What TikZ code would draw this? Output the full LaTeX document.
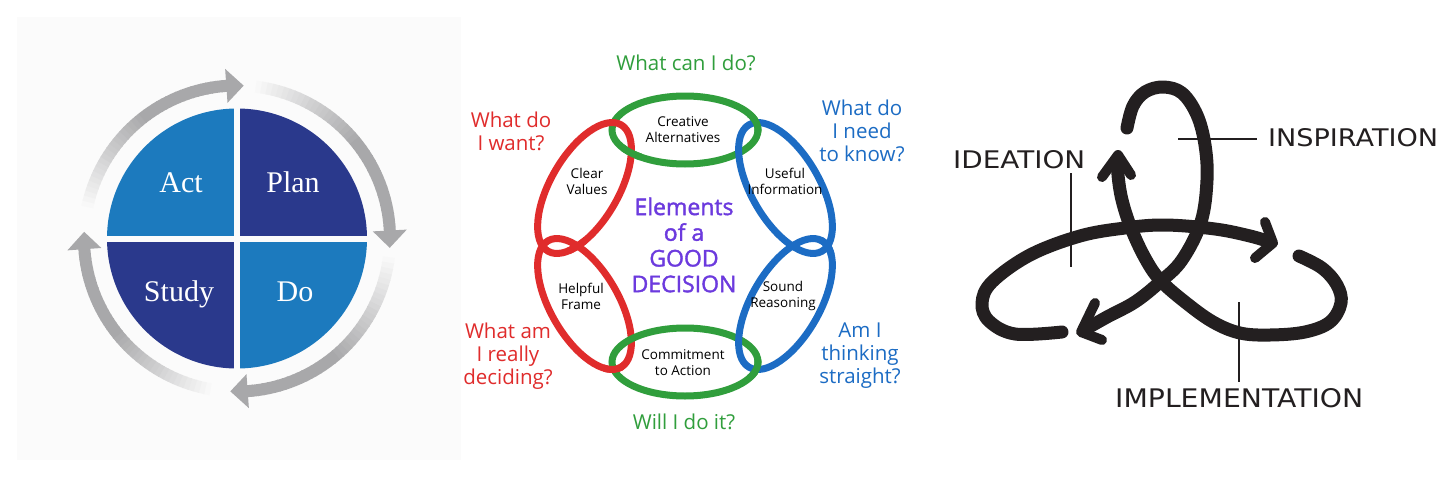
\documentclass[tikz,border=0pt]{standalone}
\usepackage{fontspec}
\usepackage{graphicx}
\usetikzlibrary{intersections}
\newfontfamily\hand{Open Sans}
\newfontfamily\handb[FakeBold=1.6]{Open Sans}
\newfontfamily\serf{Liberation Serif}
\newfontfamily\lett{DejaVu Sans}
\definecolor{panelbg}{RGB}{251,251,251}
\definecolor{pdlight}{RGB}{28,122,190}
\definecolor{pddark}{RGB}{42,57,140}
\definecolor{arrowgray}{RGB}{168,168,170}
\definecolor{dgreen}{RGB}{48,158,60}
\definecolor{dred}{RGB}{224,44,44}
\definecolor{dblue}{RGB}{28,108,196}
\definecolor{dpurple}{RGB}{108,58,222}
\definecolor{knotblack}{RGB}{35,31,32}
\tikzset{
  pdlab/.style={text=white, font=\serf\fontsize{30}{36}\selectfont, inner sep=0pt},
  ring/.style={line width=7pt},
  eGT/.style={shift={(685,130)}},
  eRUL/.style={shift={(584.5,188)}, rotate=60},
  eRLL/.style={shift={(584.5,304)}, rotate=-60},
  eGB/.style={shift={(685,362)}},
  eBLR/.style={shift={(785.5,304)}, rotate=60},
  eBUR/.style={shift={(785.5,188)}, rotate=-60},
  qlab/.style={font=\hand\fontsize{20.5}{23}\selectfont, align=center, inner sep=0pt},
  ilab/.style={font=\hand\fontsize{13.5}{16}\selectfont, align=center, inner sep=0pt, text=black},
  knot/.style={line width=13pt, knotblack, line cap=round, line join=round},
  barb/.style={line width=10pt, knotblack, line cap=round, line join=round},
  lead/.style={line width=2pt, knotblack},
  caps/.style={inner sep=0pt, text=knotblack}
}
\begin{document}
\begin{tikzpicture}[x=1pt,y=-1pt]
\useasboundingbox (0,0) rectangle (1456,479);
\fill[white] (0,0) rectangle (1456,479);
\fill[panelbg] (17,17) rectangle (461,460);

% ---------------- PDSA cycle ----------------
\coordinate (pc) at (237,238.5);
\begin{scope}
  \clip (pc) circle[radius=130];
  \fill[pdlight] (100,100) rectangle (234,235.7);
  \fill[pddark] (240,100) rectangle (380,235.7);
  \fill[pddark] (100,241.7) rectangle (234,380);
  \fill[pdlight] (240,241.7) rectangle (380,380);
\end{scope}
\node[pdlab, anchor=base] (act) at (181,192.7) {Act};
\node[pdlab, anchor=base] (plan) at (293,192.7) {Plan};
\node[pdlab, anchor=base] (study) at (179,301.7) {Study};
\node[pdlab, anchor=base] (do) at (295,301.7) {Do};

\def\pr{153}
\foreach \ta/\tb in {-170/-94, -85/-3, 5/86, 98/176} {
  \foreach \i in {0,...,39} {
    \pgfmathsetmacro\aa{\ta+(\tb-\ta)*\i/40}
    \pgfmathsetmacro\ab{\ta+(\tb-\ta)*(\i+1)/40+0.4}
    \pgfmathtruncatemacro\pp{min(100,\i*100/22)}
    \draw[line width=12pt, color=arrowgray!\pp!panelbg] ([shift={(\aa:\pr)}]pc) arc[start angle=\aa, end angle=\ab, radius=\pr];
  }
  \pgfmathsetmacro\ri{\pr-17}
  \pgfmathsetmacro\ro{\pr+17}
  \pgfmathsetmacro\tt{\tb+6.5}
  \fill[arrowgray] ([shift={(\tb:\ri)}]pc) -- ([shift={(\tt:\pr)}]pc) -- ([shift={(\tb:\ro)}]pc) -- cycle;
}

% ---------------- Elements of a good decision ----------------
\draw[ring, dgreen, eGT, name path=gT] (0,0) ellipse[x radius=73, y radius=34];
\draw[ring, dred, eRUL, name path=rUL] (0,0) ellipse[x radius=73, y radius=34];
\draw[ring, dred, eRLL, name path=rLL] (0,0) ellipse[x radius=73, y radius=34];
\draw[ring, dgreen, eGB, name path=gB] (0,0) ellipse[x radius=73, y radius=34];
\draw[ring, dblue, eBLR, name path=bLR] (0,0) ellipse[x radius=73, y radius=34];
\draw[ring, dblue, eBUR, name path=bUR] (0,0) ellipse[x radius=73, y radius=34];

\path[name intersections={of=gT and rUL, name=ia}];
\path[name intersections={of=rUL and rLL, name=ib}];
\path[name intersections={of=rLL and gB, name=ic}];
\path[name intersections={of=gB and bLR, name=id}];
\path[name intersections={of=bLR and bUR, name=ie}];
\path[name intersections={of=bUR and gT, name=if}];
\begin{scope}\clip (ia-1) circle[radius=11];
  \draw[ring, dgreen, eGT] (0,0) ellipse[x radius=73, y radius=34];\end{scope}
\begin{scope}\clip (ib-1) circle[radius=11];
  \draw[ring, dred, eRUL] (0,0) ellipse[x radius=73, y radius=34];\end{scope}
\begin{scope}\clip (ic-1) circle[radius=11];
  \draw[ring, dred, eRLL] (0,0) ellipse[x radius=73, y radius=34];\end{scope}
\begin{scope}\clip (id-1) circle[radius=11];
  \draw[ring, dgreen, eGB] (0,0) ellipse[x radius=73, y radius=34];\end{scope}
\begin{scope}\clip (ie-1) circle[radius=11];
  \draw[ring, dblue, eBLR] (0,0) ellipse[x radius=73, y radius=34];\end{scope}
\begin{scope}\clip (if-2) circle[radius=11];
  \draw[ring, dgreen, eGT] (0,0) ellipse[x radius=73, y radius=34];\end{scope}

\node[qlab, text=dgreen] (q1) at (686,63) {What can I do?};
\node[qlab, text=dred] (q2) at (511,131) {What do\\I want?};
\node[qlab, text=dblue] (q3) at (862,131) {What do\\I need\\to know?};
\node[qlab, text=dred] (q4) at (508,356) {What am\\I really\\deciding?};
\node[qlab, text=dblue] (q5) at (860,356) {Am I\\thinking\\straight?};
\node[qlab, text=dgreen] (q6) at (684,422) {Will I do it?};

\node[ilab] (e1) at (683,130) {Creative\\Alternatives};
\node[ilab] (e2) at (587,181) {Clear\\Values};
\node[ilab] (e3) at (785,181) {Useful\\Information};
\node[ilab] (e4) at (581,296) {Helpful\\Frame};
\node[ilab] (e5) at (783,296) {Sound\\Reasoning};
\node[ilab] (e6) at (683,363) {Commitment\\to Action};

\node[font=\handb\fontsize{23}{25.7}\selectfont, align=center, text=dpurple, inner sep=0pt] (title) at (684,245) {Elements\\of a\\GOOD\\DECISION};

% ---------------- Ideation / Inspiration / Implementation ----------------
% stroke C (left loop, arrow to the right)
\draw[knot] plot[smooth, tension=0.6] coordinates {(1062,332) (1015,334) (989,321) (982,303) (992,282) (1030,255) (1080,236) (1125,228) (1165,225) (1215,229) (1250,236) (1270,242)};
\draw[barb] (1265,222) -- (1273,243) -- (1255,258);
% stroke B (top loop, arrow down-left)
\draw[knot] plot[smooth, tension=0.6] coordinates {(1127,128) (1133,106) (1145,92) (1163,87) (1182,93) (1197,115) (1205,145) (1207,180) (1201,222) (1182,260) (1160,282) (1135,302) (1107,317) (1084,330)};
\draw[barb] (1095,303) -- (1081,332) -- (1102,340);
% stroke A (right loop, arrow up)
\draw[knot] plot[smooth, tension=0.6] coordinates {(1299,256) (1322,268) (1337,285) (1341,303) (1330,322) (1305,332) (1270,335) (1240,333) (1213,322) (1185,302) (1160,280) (1145,258) (1131,228) (1122,200) (1118,175) (1118,159)};
\draw[barb] (1102,177) -- (1118,155) -- (1131,175);

\node[caps, anchor=base west] (insp) at (1268,146) {\resizebox{170pt}{18pt}{\lett INSPIRATION}};
\node[caps, anchor=base west] (idea) at (953,168) {\resizebox{132pt}{18pt}{\lett IDEATION}};
\node[caps, anchor=base west] (impl) at (1115,407) {\resizebox{248pt}{19pt}{\lett IMPLEMENTATION}};
\coordinate (inspL) at (1178,139);
\coordinate (inspR) at (1257,139);
\coordinate (ideaT) at (1071,173);
\coordinate (ideaB) at (1071,267);
\coordinate (implT) at (1239,302);
\coordinate (implB) at (1239,382);
\draw[lead] (inspL) -- (inspR);
\draw[lead] (ideaT) -- (ideaB);
\draw[lead] (implT) -- (implB);
\end{tikzpicture}
\end{document}
